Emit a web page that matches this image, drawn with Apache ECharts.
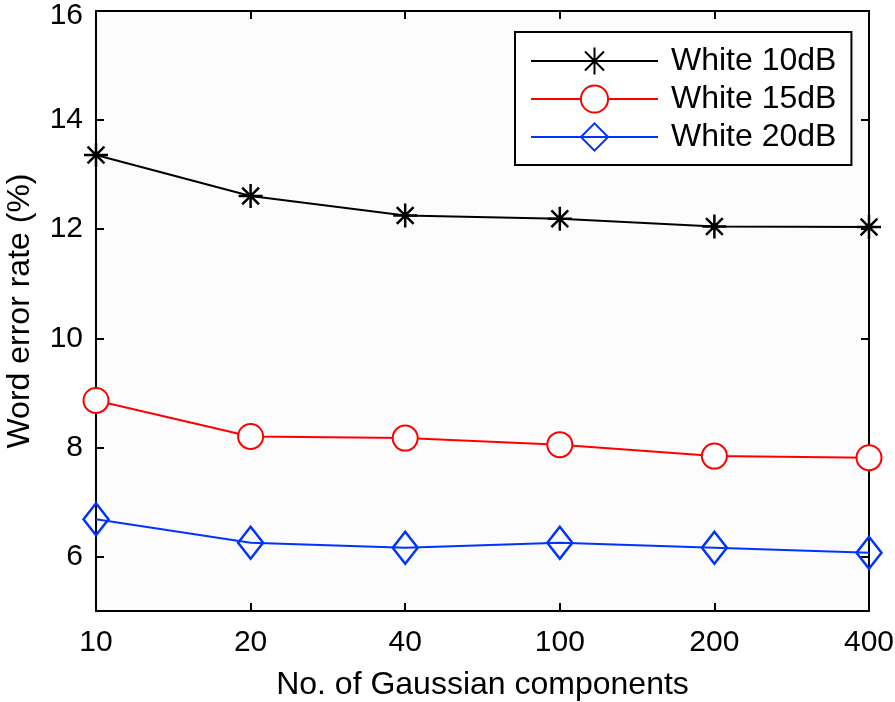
<!DOCTYPE html>
<html>
<head>
<meta charset="utf-8">
<script src="https://cdn.jsdelivr.net/npm/echarts@6/dist/echarts.min.js"></script>
<style>html,body{margin:0;padding:0;background:#fff;}#c{width:895px;height:702px;}</style>
</head>
<body>
<div id="c"></div>
<script>
const categories = ['10', '20', '40', '100', '200', '400'];
const white10 = [13.36, 12.61, 12.25, 12.19, 12.05, 12.04];
const white15 = [8.86, 8.20, 8.17, 8.05, 7.84, 7.81];
const white20 = [6.68, 6.25, 6.16, 6.25, 6.16, 6.07];
const yTicks = [6, 8, 10, 12, 14, 16];
const seriesNames = ['White 10dB', 'White 15dB', 'White 20dB'];

const FONT = 'Liberation Sans, Arial, Helvetica, sans-serif';
const starPath = 'path://M0,-10L0,10M-10,0L10,0M-7,-7L7,7M-7,7L7,-7';

const chart = echarts.init(document.getElementById('c'), null, {renderer: 'canvas'});
const axisLine = {show: true, lineStyle: {color: '#000', width: 2}};
chart.setOption({
  backgroundColor: '#fff',
  animation: false,
  grid: {left: 96, right: 26, top: 11, bottom: 91, show: true, backgroundColor: '#fcfcfc', borderWidth: 0,
         containLabel: false, outerBoundsMode: 'none'},
  legend: {
    orient: 'vertical', left: 515, top: 32,
    padding: [13, 15, 12, 15],
    backgroundColor: '#fff', borderColor: '#000', borderWidth: 2,
    itemWidth: 127, itemHeight: 34, itemGap: 6,
    textStyle: {fontFamily: FONT, fontSize: 32, color: '#000', lineHeight: 32, padding: [0, 0, 0, 8]},
    data: seriesNames
  },
  xAxis: [{
    type: 'category', data: categories, boundaryGap: false,
    axisLine: axisLine,
    axisTick: {show: true, inside: true, length: 8, alignWithLabel: true, lineStyle: {color: '#000', width: 2}},
    axisLabel: {fontFamily: FONT, fontSize: 30, color: '#000', margin: 17},
    splitLine: {show: false},
    name: 'No. of Gaussian components', nameLocation: 'middle', nameGap: 58,
    nameTextStyle: {fontFamily: FONT, fontSize: 32, color: '#000'}
  }, {
    type: 'category', data: categories, boundaryGap: false, position: 'top',
    axisLine: axisLine,
    axisTick: {show: true, inside: true, length: 8, lineStyle: {color: '#000', width: 2}},
    axisLabel: {show: false}, splitLine: {show: false}
  }],
  yAxis: [{
    type: 'value', min: 5, max: 16,
    axisLine: axisLine,
    axisTick: {show: true, inside: true, length: 8, customValues: yTicks, lineStyle: {color: '#000', width: 2}},
    axisLabel: {
      fontFamily: FONT, fontSize: 30, color: '#000', margin: 13, customValues: yTicks,
      formatter: function (v) { return v === 16 ? '{t|' + v + '}' : String(v); },
      rich: {t: {fontFamily: FONT, fontSize: 30, color: '#000', padding: [9, 0, 0, 0]}}
    },
    splitLine: {show: false},
    name: 'Word error rate (%)', nameLocation: 'middle', nameGap: 60,
    nameTextStyle: {fontFamily: FONT, fontSize: 32, color: '#000'}
  }, {
    type: 'value', min: 5, max: 16, position: 'right',
    axisLine: axisLine,
    axisTick: {show: true, inside: true, length: 8, customValues: yTicks, lineStyle: {color: '#000', width: 2}},
    axisLabel: {show: false}, splitLine: {show: false}
  }],
  series: [
    {
      name: seriesNames[0], type: 'line', data: white10,
      symbol: starPath, symbolSize: 24, showAllSymbol: true,
      lineStyle: {color: '#000', width: 2},
      itemStyle: {color: 'rgba(0,0,0,0)', borderColor: '#000', borderWidth: 2.5}
    },
    {
      name: seriesNames[1], type: 'line', data: white15,
      symbol: 'emptyCircle', symbolSize: 25, showAllSymbol: true,
      lineStyle: {color: '#ff0000', width: 2},
      itemStyle: {color: '#ff0000', borderColor: '#ff0000', borderWidth: 2.5}
    },
    {
      name: seriesNames[2], type: 'line', data: white20,
      symbol: 'path://M0,-16L12,0L0,16L-12,0Z', symbolSize: [25, 32], showAllSymbol: true,
      lineStyle: {color: '#0033ff', width: 2},
      itemStyle: {color: 'rgba(0,0,0,0)', borderColor: '#0033ff', borderWidth: 2.5}
    }
  ]
});
</script>
</body>
</html>
